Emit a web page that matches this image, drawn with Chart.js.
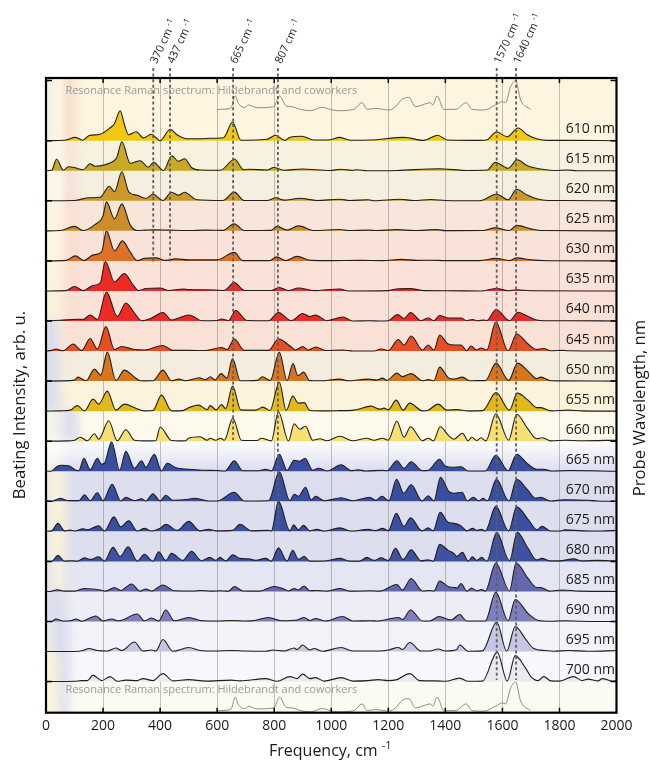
<!DOCTYPE html>
<html>
<head>
<meta charset="utf-8">
<script src="https://cdn.jsdelivr.net/npm/chart.js@4"></script>
<style>
    html, body { margin: 0; padding: 0; background: #fff; }
    #wrap { width: 650px; height: 760px; position: relative; }
</style>
</head>
<body>
<div id="wrap"><canvas id="ramanChart"></canvas></div>
<script>
// [frequency cm-1, beating intensity]
const row610 = [[0,0],[70,0.7],[102,3.3],[129,0.5],[150,5],[190,6.5],[225,13],[240,17],[260,30],[275,16],[289,6],[316,9],[342,2.7],[369,6.5],[400,0],[435,11.5],[459,6],[494,2],[540,2],[576,2.5],[622,3],[654,18.5],[683,0.5],[775,1.5],[805,5.5],[837,0.3],[856,3.5],[897,4.5],[938,0.7],[997,1],[1028,3.3],[1067,0.5],[1137,0.7],[1254,3.3],[1324,0.3],[1373,5.5],[1407,0.7],[1524,0.3],[1547,1],[1579,8.7],[1617,4],[1655,12.7],[1687,6],[1723,1.7],[1757,0.3],[1827,0.3],[2000,0]];
const row615 = [[0,0],[20,0.5],[37,11.5],[61,0.5],[78,4],[102,3],[131,1],[154,7],[172,4.5],[207,6],[236,9.5],[248,13],[266,29],[295,7.5],[330,10],[359,3.5],[377,8.5],[412,0.3],[441,15],[464,9.5],[486,12],[511,3],[541,0.7],[611,0.5],[661,11.5],[693,1],[710,1.5],[775,0.7],[798,3.3],[833,0.5],[897,1.7],[997,0.3],[1032,1.5],[1073,0.5],[1090,1],[1126,0],[1231,0.3],[1377,2],[1477,0.3],[1547,0.7],[1575,8.5],[1620,2.5],[1652,11],[1687,5],[1734,1.7],[1780,0.3],[1827,0.7],[1862,0],[2000,0]];
const row620 = [[0,0],[100,0.3],[150,3],[190,3.5],[222,14.5],[240,9],[266,29],[290,9],[320,5.5],[350,2.5],[375,6.5],[410,0.3],[440,8.5],[465,5.5],[485,8.5],[530,1],[620,0.3],[660,8.7],[695,0.3],[775,0.3],[805,3],[835,0.7],[890,2.5],[950,0.3],[1030,1.5],[1065,0.3],[1130,1],[1150,0],[1240,1.5],[1290,0.3],[1350,1.3],[1400,0.3],[1520,0],[1580,6.5],[1620,1],[1650,11.5],[1685,6],[1720,2],[1760,0.3],[1810,0.3],[2000,0]];
const row625 = [[0,0],[50,0.3],[100,4.5],[130,0.3],[170,6],[200,15],[212,29],[240,12],[266,27],[295,6],[320,0.3],[350,0.7],[380,1],[430,0.7],[500,0.3],[560,0.7],[620,0.5],[660,7],[695,0.3],[790,0.5],[810,4.5],[845,0.7],[885,5],[940,0.3],[1030,1.3],[1060,0.3],[1130,0.7],[1160,0.3],[1230,1.2],[1290,0.3],[1370,1.2],[1400,0.2],[1530,0.3],[1575,3],[1625,0.3],[1650,5.5],[1700,2],[1740,0.3],[2000,0]];
const row630 = [[0,0],[70,0.5],[103,5],[133,0.3],[165,6],[195,9],[212,30],[240,10],[268,20],[295,9],[320,0.3],[345,2.5],[385,3],[420,0.5],[455,2],[500,1],[600,1],[660,8.5],[690,0.3],[785,0.3],[808,4],[840,0.3],[880,4.5],[930,0.5],[1000,0.3],[1100,0.5],[1180,0.3],[1245,1.5],[1300,0.5],[1350,0.7],[1400,0.3],[1520,0.3],[1578,2.5],[1625,0.3],[1650,3],[1700,1],[1760,0.2],[2000,0]];
const row635 = [[0,0],[70,0.3],[100,4.5],[130,0.3],[165,5.5],[190,8],[208,29.5],[240,9],[275,17.5],[305,6],[325,0.3],[350,2.5],[400,3],[430,0.5],[480,2],[500,1.5],[590,1],[625,0.5],[660,8.5],[695,0.5],[790,0.5],[818,3.5],[850,0.3],[885,3],[940,0.3],[1030,2],[1060,0],[1200,0.3],[1228,2],[1278,2.3],[1325,0.3],[1400,0.2],[1524,0],[1580,2.5],[1620,0.2],[1650,1.2],[1700,0.2],[2000,0]];
const row640 = [[0,0],[50,0.7],[110,1.7],[130,1.5],[155,6],[180,1.5],[212,29],[250,4.5],[280,18],[310,8],[335,0.3],[370,3],[410,8.5],[440,1],[465,3],[500,6],[520,4],[545,0.3],[600,0.5],[615,2],[640,0.3],[665,10.5],[705,0.5],[780,0.3],[815,8.5],[860,0.3],[900,7.5],[925,4.5],[945,6],[985,0.3],[1040,4],[1075,0],[1135,0.3],[1170,0],[1200,0.3],[1232,6.5],[1255,2.5],[1278,8.5],[1315,0.3],[1340,3],[1360,0.3],[1380,5.5],[1410,3],[1455,3],[1475,0.3],[1495,1.5],[1515,0.2],[1535,1],[1545,0.5],[1578,11.5],[1625,0.3],[1655,8.7],[1690,4.5],[1720,1],[1745,0.3],[1830,0.3],[2000,0]];
const row645 = [[0,0],[20,0.7],[35,2],[60,0.3],[95,7],[125,0.5],[155,12.5],[180,2],[210,24.5],[240,1.5],[265,4.5],[310,1.5],[345,1],[410,5.5],[445,0.7],[500,0.7],[560,0.5],[615,3.5],[635,1.5],[660,12],[695,0.7],[780,0.7],[815,12],[860,4],[875,1],[900,4.5],[920,1],[945,4],[980,0.5],[1040,1],[1075,0],[1150,0],[1175,2],[1200,0.5],[1235,11.5],[1255,6],[1280,15],[1320,1],[1340,6],[1360,1],[1380,16],[1410,7],[1435,6],[1455,6],[1475,0.3],[1490,5],[1510,1],[1525,3],[1545,1],[1577,29],[1620,0.3],[1650,17],[1690,7],[1720,1.5],[1745,2.5],[1770,0.3],[1810,0.7],[1830,0.3],[2000,0]];
const row650 = [[0,0],[60,0.2],[100,1],[112,4],[140,0.3],[170,12],[192,6],[215,29],[245,0.7],[275,11],[310,4],[330,0.3],[345,0.2],[375,0.3],[410,11],[440,0.3],[465,2],[490,0.3],[537,3.3],[558,1.3],[576,4.3],[593,1.3],[614,7.5],[634,3],[654,22.5],[681,0.3],[740,0.7],[759,4.3],[786,0.5],[818,29],[845,0.5],[866,17.5],[883,5.5],[903,9],[924,0.5],[962,0.3],[1030,2],[1060,0.3],[1130,2],[1160,1],[1180,3],[1195,0.7],[1230,8],[1250,4.5],[1280,7.5],[1320,0.3],[1340,1.5],[1360,0.3],[1380,14],[1410,3.5],[1430,2],[1460,4],[1485,0.3],[1510,0.5],[1540,0.5],[1578,18],[1622,0.7],[1653,18],[1690,10],[1720,2.5],[1735,4],[1770,0.3],[1800,0.2],[2000,0]];
const row655 = [[0,0],[50,0.3],[85,1],[110,5.5],[135,0.3],[165,12],[185,7],[215,20],[245,1],[275,7],[315,3],[345,0.3],[375,0.7],[405,16],[440,0.3],[480,0.5],[500,3.5],[535,6],[565,1.5],[575,5.5],[597,1.3],[615,6.5],[630,2.5],[654,25],[683,1.3],[735,1],[760,4],[785,0.7],[818,29],[842,0.7],[865,15],[885,8],[905,8.5],[925,0.7],[985,0.3],[1030,0.5],[1080,1],[1140,5],[1170,2],[1185,3],[1200,1.5],[1228,11],[1252,1],[1275,8],[1320,0.3],[1340,1],[1375,7],[1405,1],[1440,1.5],[1480,0.3],[1530,0.5],[1578,18.5],[1625,1],[1652,18],[1690,11],[1720,3.5],[1735,3.5],[1770,0.3],[1830,1],[1880,0.3],[2000,0]];
const row660 = [[0,0],[70,0.3],[100,1],[120,4],[145,0.5],[170,7.5],[185,2],[220,20.5],[250,0.3],[280,11.5],[310,1],[345,0.3],[385,0.5],[400,14],[440,0.7],[470,0.3],[490,0.5],[500,3],[540,4.5],[565,1],[575,3],[595,1],[612,3],[625,1],[655,23],[685,1],[740,0.7],[755,3],[790,0.3],[815,29.5],[850,0.3],[870,17.5],[890,12],[910,15],[935,1],[960,2.5],[985,0.5],[1030,5],[1075,0.5],[1125,3],[1150,1],[1180,3],[1200,1],[1230,20],[1255,4],[1278,14.5],[1320,0.5],[1340,3],[1358,0.3],[1382,14.5],[1410,6],[1430,2],[1460,8],[1480,0.3],[1492,4],[1510,0.7],[1525,3.5],[1542,0.3],[1577,27.5],[1622,1],[1650,27],[1690,12],[1720,2.5],[1740,3.5],[1770,0.3],[1820,1],[1880,0.5],[2000,1]];
const row665 = [[0,0],[20,0.3],[40,5],[55,6],[80,5.5],[105,1],[115,0.5],[133,13],[155,1.5],[180,13],[195,7],[205,8],[230,29.5],[258,1],[280,20],[310,3],[335,10.5],[350,4],[380,17],[405,0.3],[425,8],[455,3.5],[500,2],[550,1],[600,0.7],[628,0.3],[660,10.5],[690,0.5],[745,0.5],[770,2],[790,0.3],[818,17],[845,1],[870,11],[890,10],[908,13],[935,1],[955,3],[985,0.3],[1035,6.5],[1070,0.5],[1095,1.5],[1120,0.3],[1180,1],[1195,0.5],[1230,10.5],[1255,3],[1280,9.5],[1320,0.5],[1340,1],[1380,12],[1400,5],[1425,4],[1455,4.5],[1480,0.3],[1540,0.3],[1577,16],[1620,0.5],[1650,17],[1690,7],[1720,2],[1745,2],[1770,0.3],[1840,0.7],[2000,0]];
const row670 = [[0,0],[20,0],[50,3],[70,1],[85,0.7],[115,0.7],[135,6.5],[155,0.7],[180,8.5],[200,0.5],[232,17],[262,0.3],[280,4],[310,0.7],[335,2.5],[350,0.3],[375,7.5],[400,0.3],[420,6],[445,1],[500,2],[520,3],[570,0.3],[600,0.3],[660,9],[695,0.3],[780,0.5],[818,29.5],[855,0.5],[870,7],[885,5],[910,14],[930,1.5],[945,5],[975,0.5],[1035,3.5],[1075,0.5],[1135,4],[1155,1],[1178,5],[1202,0.5],[1229,22],[1254,8],[1280,16.5],[1319,0.3],[1340,5.5],[1360,0.3],[1383,24],[1412,10],[1430,8],[1459,9],[1477,0.3],[1498,4],[1518,0.5],[1532,3],[1547,0.5],[1579,22],[1623,0.3],[1650,22],[1687,12],[1716,3],[1734,4],[1769,0.3],[1816,1.5],[1898,1],[1933,0.3],[2000,0]];
const row675 = [[0,0],[20,0.5],[42,8],[65,0.5],[85,1.2],[100,0.3],[130,2.5],[145,1.5],[185,5.5],[205,0.3],[238,14.5],[262,4.5],[290,10.5],[320,0.3],[345,3],[370,0.3],[400,3],[420,7],[460,1],[500,10],[540,0.5],[570,2],[595,0.5],[655,1],[680,7],[720,0.5],[780,1],[790,0.3],[815,30],[855,0.5],[868,6.5],[885,1.5],[903,6],[925,0.5],[950,2],[975,0.3],[1030,3.5],[1070,0.3],[1130,2],[1155,0.7],[1180,3],[1200,0.7],[1228,18],[1255,5],[1278,13.5],[1318,0.5],[1340,3.5],[1357,0.5],[1382,19],[1410,9],[1430,8],[1455,5.5],[1475,0.5],[1495,3],[1512,1],[1527,2],[1540,0.3],[1577,25],[1622,0.5],[1650,24.5],[1690,12],[1722,1.5],[1738,5],[1770,0.3],[1800,0.3],[1820,1.5],[1880,0.5],[1950,0.3],[2000,1]];
const row680 = [[0,0],[20,0],[42,6],[65,0.3],[85,0.7],[110,0.3],[135,3.5],[155,2],[185,4.5],[205,0.3],[235,14],[260,5],[288,14.5],[320,0.3],[345,7],[375,0.3],[395,9.5],[420,1],[440,8],[480,1],[510,10],[545,0.7],[575,4],[595,1],[610,4],[630,0.5],[655,6.5],[680,3],[710,2.5],[735,1],[770,3],[790,0.3],[815,13.5],[845,0.3],[865,11],[885,2],[905,5],[925,0.3],[985,0.7],[1030,3],[1065,0.3],[1100,0.3],[1125,4],[1150,1],[1175,3.5],[1200,1],[1225,13],[1252,2],[1280,11.5],[1315,0.5],[1340,1.5],[1358,0.3],[1380,17],[1410,11],[1430,8],[1440,5],[1460,9],[1480,0.3],[1495,4.5],[1510,1],[1527,4],[1545,0.3],[1580,29],[1625,0.5],[1652,29],[1690,13],[1720,1.5],[1738,3],[1770,0.5],[1800,0.5],[1850,2.5],[1880,0.5],[1930,1],[2000,0.5]];
const row685 = [[0,0],[15,0],[40,1.7],[65,0.3],[100,0.3],[135,3],[190,1.5],[210,0.3],[240,4],[262,1],[300,7.5],[330,0.3],[350,2.5],[370,0.5],[410,6.5],[450,0.7],[520,0.5],[540,1],[580,0.3],[610,0.7],[640,0.3],[660,5],[690,0.5],[750,0.3],[800,5],[830,3],[850,0.5],[870,3],[885,1.5],[905,5.5],[925,0.7],[945,1],[985,0.3],[1030,3],[1065,0.3],[1140,0.7],[1170,0.3],[1230,7],[1250,1.5],[1280,13],[1320,0.5],[1345,1],[1360,0.5],[1380,10.5],[1410,5],[1430,4],[1440,3.5],[1455,8],[1475,0.3],[1492,3.5],[1510,0.5],[1527,2],[1540,0.3],[1577,28.5],[1625,0.5],[1648,28.5],[1690,13],[1720,4],[1735,4],[1765,0.3],[1810,1.5],[1870,0.3],[2000,0]];
const row690 = [[0,0],[20,0],[35,2.5],[60,0.5],[85,0.7],[105,2.5],[125,0.3],[175,5.5],[200,0.5],[230,2.5],[255,0.7],[320,7.5],[345,0.7],[370,3.5],[395,0.5],[420,11.5],[450,0.7],[500,4],[550,0.7],[600,0.5],[650,1],[700,0.5],[730,1],[780,4],[830,0.7],[880,1.5],[905,4],[925,1],[945,3],[980,0.5],[1040,5],[1075,0.5],[1140,0.7],[1160,0.5],[1235,4],[1250,2],[1278,11.5],[1320,0.5],[1345,0.5],[1378,5],[1420,1.5],[1450,7],[1475,0.5],[1540,0.5],[1577,29.5],[1620,0.7],[1645,22],[1690,8],[1730,0.7],[1760,0.3],[1820,0.7],[1870,0.3],[2000,0]];
const row695 = [[0,0],[100,0],[130,1],[150,3],[180,1],[215,0.5],[245,3.5],[265,1],[310,9.5],[340,0.5],[370,1.5],[385,0.5],[410,12],[445,0.3],[500,4],[540,1],[590,0.5],[650,1],[700,0.5],[770,0.3],[795,1.5],[835,0.5],[870,3.5],[880,2],[900,6.5],[925,1.5],[940,3],[970,0.3],[1035,4],[1075,0.5],[1140,0.5],[1170,0.5],[1200,1.5],[1235,4],[1250,2],[1275,9],[1315,0.5],[1345,0.5],[1375,2.5],[1400,0.5],[1440,2],[1450,6.5],[1480,0.3],[1530,0.7],[1580,29.5],[1615,0.3],[1645,25],[1680,13],[1710,3],[1750,1],[1780,0.3],[1830,1],[1900,0.3],[2000,1]];
const row700 = [[0,0],[100,0.3],[125,1],[145,1],[165,6.5],[195,1],[225,5],[250,0.3],[280,1.5],[320,1],[340,3],[375,1],[410,8],[445,0.7],[500,2],[560,0.5],[650,1.5],[680,0.7],[770,3],[810,0.3],[855,5],[880,3],[900,7.5],[925,3],[945,4],[975,0.5],[1035,4],[1075,0.5],[1130,1],[1165,2],[1200,1],[1230,2],[1275,8],[1310,1],[1365,0.7],[1400,0.3],[1450,3.5],[1480,0.3],[1530,0.5],[1582,29.5],[1617,0.3],[1645,26],[1680,14],[1700,5],[1725,1],[1745,5],[1770,0.7],[1800,0.5],[1850,5],[1880,1],[1900,2.5],[1935,0.7],[1950,3],[1990,0.3],[2000,1]];
const resonanceRaman = [[601,1.3],[646,2.3],[652,4.7],[663,14.7],[675,7],[698,3.3],[710,5.7],[739,3],[798,4],[819,14.7],[842,4.7],[862,4],[892,1.3],[927,0],[968,3.3],[997,1.3],[1020,0],[1079,1.3],[1108,8],[1126,1.3],[1155,2.3],[1202,0.7],[1225,4],[1248,11.3],[1272,13.3],[1295,4],[1348,8],[1356,5.7],[1371,14.7],[1395,1.3],[1436,1.3],[1473,8],[1494,1.3],[1535,0.7],[1582,6.7],[1600,9],[1611,8],[1629,24],[1646,30],[1664,10.7],[1699,1.3]];

const wavelengths = [610, 615, 620, 625, 630, 635, 640, 645, 650, 655, 660, 665, 670, 675, 680, 685, 690, 695, 700];
const rows = [row610, row615, row620, row625, row630, row635, row640, row645, row650, row655, row660, row665, row670, row675, row680, row685, row690, row695, row700];
const fillColors = ['#f0c814', '#c9a825', '#cc9827', '#cc8e2a', '#dd7128', '#ee2a24', '#ee2a24', '#e64f22', '#d8751f', '#e2b81c', '#f7e071', '#3a4ea0', '#3a4ea0', '#3a4fa0', '#3f52a2', '#6267b0', '#7e80be', '#c5c6e3', '#e9e9ef'];

// marked modes: label text, where the dashed guide sits, and how far down the plot it runs
const modeLabels = ['370', '437', '665', '807', '1570', '1640'];
const modeFreqs = [376, 435, 656, 813, 1580, 1648];
const modeEnds = [264, 264, 440, 530, 680, 680];

// background colour of each row band, top to bottom, last one is the lower Raman strip
const bandBase = ['#fdf5df', '#f7f1e0', '#f5efdf', '#f8e6da', '#f9e3d8', '#fae2d8', '#fae1d7', '#f9e1d6', '#f4ecdc', '#fbf3dc', '#fefaeb', '#dcdeef', '#dcdeee', '#dddfef', '#dddfef', '#e4e6f3', '#ecedf7', '#f3f3fa', '#f8f8fc', '#fbfbf4'];
const bandStopFreqs = [0, 20, 40, 60, 80, 100];
const bandLeft = [
    ['#e4e5f2', '#fbf3de', '#fdf9ea', '#fbf0dc', '#f6d3c6', '#fbebd8'],
    ['#fbf5e4', '#fbf2df', '#fdfaf0', '#faf3e3', '#f8ded0', '#f7ebdb'],
    ['#faf3de', '#fcf5e2', '#fdfbf2', '#f8efe0', '#f8dccf', '#f6e6d9'],
    ['#fcf4dd', '#fdf5e0', '#fdf6e4', '#fbeedc', '#f9dbcd', '#f8e2d5'],
    ['#fdf5dc', '#fdf6e0', '#fdf7e3', '#fbeddb', '#fadbcd', '#f9dfd3'],
    ['#fbf3dc', '#fbf3dd', '#fcf5e0', '#fae9da', '#fadcd0', '#fadfd4'],
    ['#f5eddd', '#faf2dc', '#fcf4dd', '#f8e7d8', '#faddd1', '#fadfd5'],
    ['#dfe0ee', '#d6d8ec', '#e6e4e6', '#f6e7d8', '#fae0d3', '#f9e1d6'],
    ['#e0e1ee', '#d9dbec', '#e4e3e8', '#f2ebdf', '#f4ecdc', '#f4ecdc'],
    ['#e4e5ef', '#d8daec', '#e2e2e8', '#f6f0dd', '#fbf3dc', '#fbf3dc'],
    ['#faf7ea', '#f2f1ec', '#f5f3ec', '#e5e5ee', '#dadcec', '#dfe0ef'],
    ['#f6f4ec', '#f2efe6', '#f8f5e4', '#e6e7f0', '#d9dbee', '#dadcee'],
    ['#e3e4ee', '#f5f1e0', '#fcf4d6', '#f4efdf', '#dddfee', '#dcdeee'],
    ['#e5e5ec', '#f1eee0', '#fdf5d3', '#f8f1d8', '#dddfee', '#dddfef'],
    ['#e5e5ec', '#f1eee0', '#fdf5d3', '#f8f1d8', '#dddfee', '#dddfef'],
    ['#dcdeee', '#e9e8e8', '#fbf4db', '#f2eee2', '#dee0ee', '#e4e6f3'],
    ['#e3e4f2', '#dadcee', '#dddfec', '#dddfee', '#e8e9f4', '#efeff4'],
    ['#f8f1dc', '#e6e6ec', '#d9dbec', '#d5d8ec', '#e7e8f4', '#f2f2f9'],
    ['#fbf4d8', '#fbf4d8', '#edebe4', '#dadcec', '#e3e4f2', '#f7f7fb'],
    ['#fbf5da', '#fbf5da', '#f2efe2', '#d9dbeb', '#eeeef3', '#fbfbf4']
];

const ROW_STEP = 30.05;
const Y_MAX = 634.7;
const TOP_RAMAN_BASE = 602;
const LOW_RAMAN_BASE = 0.8;
const baselineOf = (i) => 572 - ROW_STEP * i;
const uiFont = '"Open Sans", sans-serif';
const RAMAN_TITLE = 'Resonance Raman spectrum: Hildebrandt and coworkers';

function paintBands(chart) {
    const { ctx, scales: { x, y }, chartArea: area } = chart;
    bandBase.forEach((base, i) => {
        const top = i === 0 ? area.top : y.getPixelForValue(baselineOf(i - 1));
        const bottom = i === bandBase.length - 1 ? area.bottom : y.getPixelForValue(baselineOf(i));
        const grad = ctx.createLinearGradient(area.left, 0, area.right, 0);
        bandStopFreqs.forEach((f, k) => {
            grad.addColorStop((x.getPixelForValue(f) - area.left) / area.width, bandLeft[i][k]);
        });
        grad.addColorStop((x.getPixelForValue(130) - area.left) / area.width, base);
        grad.addColorStop(1, base);
        ctx.fillStyle = grad;
        ctx.fillRect(area.left, top, area.width, bottom - top);
        if (wavelengths[i] === 665) {
            const fade = ctx.createLinearGradient(0, top, 0, bottom);
            fade.addColorStop(0, 'rgba(255,255,255,0.95)');
            fade.addColorStop(1, 'rgba(255,255,255,0)');
            ctx.fillStyle = fade;
            ctx.fillRect(area.left, top, area.width, bottom - top);
        }
    });
}

// text with a raised "-1" after it, written from the current origin
function supText(ctx, text, sup, font, supFont, raise) {
    ctx.font = font;
    ctx.fillText(text, 0, 0);
    const w = ctx.measureText(text).width;
    ctx.font = supFont;
    ctx.fillText(sup, w, -raise);
}

const figurePlugin = {
    id: 'figureParts',
    beforeDraw(chart) {
        const { ctx, scales: { x }, chartArea: area } = chart;
        paintBands(chart);
        // the low frequency end of the map is soft in the original
        ctx.save();
        ctx.beginPath();
        ctx.rect(area.left, area.top, x.getPixelForValue(130) - area.left, area.height);
        ctx.clip();
        ctx.filter = 'blur(5px)';
        paintBands(chart);
        ctx.restore();
    },
    afterDatasetsDraw(chart) {
        const { ctx, scales: { x, y }, chartArea: area } = chart;
        ctx.save();

        // row labels
        ctx.fillStyle = '#1a1a1a';
        ctx.font = '14px ' + uiFont;
        ctx.textAlign = 'right';
        ctx.textBaseline = 'middle';
        wavelengths.forEach((nm, i) => {
            ctx.fillText(nm + ' nm', area.right - 1.5, y.getPixelForValue(baselineOf(i) + 11.5));
        });

        // Raman captions
        ctx.fillStyle = '#9a9a9a';
        ctx.font = '11px ' + uiFont;
        ctx.textAlign = 'left';
        ctx.fillText(RAMAN_TITLE, x.getPixelForValue(68), y.getPixelForValue(TOP_RAMAN_BASE + 20));
        ctx.fillText(RAMAN_TITLE, x.getPixelForValue(68), y.getPixelForValue(LOW_RAMAN_BASE + 22));

        // frame and inward ticks
        ctx.strokeStyle = '#000';
        ctx.lineWidth = 1.5;
        for (let f = 200; f < 2000; f += 200) {
            const px = x.getPixelForValue(f);
            ctx.beginPath();
            ctx.moveTo(px, area.top);
            ctx.lineTo(px, area.top + 5);
            ctx.moveTo(px, area.bottom);
            ctx.lineTo(px, area.bottom - 5);
            ctx.stroke();
        }
        for (let i = -2; i <= 18; i += 2) {
            const py = y.getPixelForValue(baselineOf(i));
            ctx.beginPath();
            ctx.moveTo(area.left, py);
            ctx.lineTo(area.left + 6, py);
            ctx.moveTo(area.right, py);
            ctx.lineTo(area.right - 6, py);
            ctx.stroke();
        }
        ctx.lineWidth = 2.2;
        ctx.strokeRect(area.left, area.top, area.width, area.height);

        // mode labels above the frame
        ctx.fillStyle = '#1a1a1a';
        ctx.textAlign = 'left';
        ctx.textBaseline = 'middle';
        modeLabels.forEach((label, i) => {
            ctx.save();
            ctx.translate(x.getPixelForValue(modeFreqs[i]) + 0.5, area.top - 15);
            ctx.rotate(-65 * Math.PI / 180);
            supText(ctx, label + ' cm ', '-1', '11px ' + uiFont, '8px ' + uiFont, 3);
            ctx.restore();
        });

        // axis titles
        ctx.textAlign = 'center';
        ctx.font = '16.7px ' + uiFont;
        [['Beating Intensity, arb. u.', 20, 405], ['Probe Wavelength, nm', 640, 408]].forEach(([text, tx, ty]) => {
            ctx.save();
            ctx.translate(tx, ty);
            ctx.rotate(-Math.PI / 2);
            ctx.fillText(text, 0, 0);
            ctx.restore();
        });
        ctx.save();
        ctx.textAlign = 'left';
        ctx.translate(269, 751);
        supText(ctx, 'Frequency, cm ', '-1', '16px ' + uiFont, '11px ' + uiFont, 5);
        ctx.restore();

        ctx.restore();
    }
};

function buildDatasets() {
    const guides = modeFreqs.map((f, i) => ({
        data: [{ x: f, y: Y_MAX + 10 }, { x: f, y: Y_MAX + 78 - modeEnds[i] }],
        borderColor: '#5f5f5f',
        borderWidth: 1.8,
        borderDash: [3, 2.6],
        pointRadius: 0,
        fill: false,
        clip: false,
        order: -1
    }));
    const spectra = rows.map((row, i) => ({
        label: wavelengths[i] + ' nm',
        data: row.map(([f, h]) => ({ x: f, y: baselineOf(i) + h })),
        borderColor: '#1f1f1f',
        borderWidth: 1.1,
        backgroundColor: fillColors[i],
        fill: { value: baselineOf(i) },
        cubicInterpolationMode: 'monotone',
        pointRadius: 0
    }));
    const raman = [TOP_RAMAN_BASE, LOW_RAMAN_BASE].map((base) => ({
        label: 'Resonance Raman',
        data: resonanceRaman.map(([f, h]) => ({ x: f, y: base + h })),
        borderColor: '#8c8c8c',
        borderWidth: 1,
        fill: false,
        cubicInterpolationMode: 'monotone',
        pointRadius: 0
    }));
    return [...guides, ...spectra, ...raman];
}

new Chart(document.getElementById('ramanChart'), {
    type: 'line',
    data: { datasets: buildDatasets() },
    plugins: [figurePlugin],
    options: {
        responsive: true,
        maintainAspectRatio: false,
        animation: false,
        layout: { padding: { top: 78, right: 33.5, bottom: 0, left: 0 } },
        plugins: {
            legend: { display: false },
            tooltip: { enabled: false }
        },
        scales: {
            x: {
                type: 'linear',
                min: 0,
                max: 2000,
                afterFit: (scale) => { scale.height = 47.3; },
                border: { display: false },
                grid: { color: 'rgba(110, 110, 110, 0.42)', drawTicks: false },
                ticks: {
                    stepSize: 200,
                    autoSkip: false,
                    maxRotation: 0,
                    padding: 5,
                    color: '#1a1a1a',
                    font: { family: uiFont, size: 14 },
                    callback: (value) => String(value)
                }
            },
            y: {
                type: 'linear',
                min: 0,
                max: Y_MAX,
                afterFit: (scale) => { scale.width = 46; },
                border: { display: false },
                grid: { display: false, drawTicks: false },
                ticks: { display: false }
            }
        }
    }
});
</script>
</body>
</html>
